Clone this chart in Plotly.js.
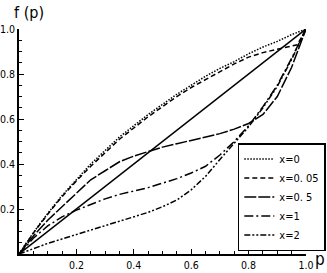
<!DOCTYPE html>
<html>
<head>
<meta charset="utf-8">
<script src="https://cdn.plot.ly/plotly-3.0.1.min.js"></script>
<style>html,body{margin:0;padding:0;background:#fff;}#chart{width:327px;height:273px;}</style>
</head>
<body>
<div id="chart"></div>
<script>
const p = [0, 0.05, 0.1, 0.15, 0.2, 0.25, 0.3, 0.35, 0.4, 0.45, 0.5, 0.55, 0.6, 0.65, 0.7, 0.75, 0.8, 0.85, 0.9, 0.95, 1.0];
const pDashed = [0, 0.05, 0.1, 0.15, 0.2, 0.25, 0.3, 0.35, 0.4, 0.45, 0.5, 0.55, 0.6, 0.65, 0.7, 0.75, 0.8, 0.85, 0.9, 0.95, 0.97, 1.0];
const fX0   = [0, 0.095, 0.18, 0.26, 0.33, 0.40, 0.46, 0.52, 0.57, 0.62, 0.665, 0.71, 0.75, 0.79, 0.825, 0.855, 0.89, 0.92, 0.945, 0.975, 1.0];
const fX005 = [0, 0.093, 0.177, 0.255, 0.325, 0.39, 0.45, 0.51, 0.56, 0.61, 0.655, 0.70, 0.74, 0.775, 0.81, 0.845, 0.875, 0.895, 0.91, 0.925, 0.93, 1.0];
const fX05  = [0, 0.08, 0.15, 0.21, 0.27, 0.33, 0.37, 0.41, 0.435, 0.455, 0.475, 0.49, 0.505, 0.52, 0.535, 0.555, 0.58, 0.62, 0.70, 0.83, 1.0];
const fX1   = [0, 0.07, 0.125, 0.165, 0.195, 0.22, 0.245, 0.265, 0.28, 0.295, 0.315, 0.335, 0.36, 0.39, 0.44, 0.50, 0.57, 0.655, 0.75, 0.87, 1.0];
const fX2   = [0, 0.025, 0.047, 0.067, 0.087, 0.107, 0.127, 0.147, 0.165, 0.185, 0.21, 0.24, 0.285, 0.345, 0.42, 0.495, 0.565, 0.65, 0.745, 0.865, 1.0];
const diagP = [0, 1];
const diagF = [0, 1];
const names = ['x=0', 'x=0. 05', 'x=0. 5', 'x=1', 'x=2'];
const tickVals = [0.2, 0.4, 0.6, 0.8, 1.0];
const tickText = ['0.2', '0.4', '0.6', '0.8', '1.0'];

const FONT = '"DejaVu Sans Condensed", "Liberation Sans Narrow", sans-serif';
const lw = 1.5;
const traces = [
  {x: diagP, y: diagF, mode: 'lines', line: {color: 'black', width: lw}, showlegend: false},
  {x: p, y: fX0, name: names[0], mode: 'lines', line: {color: 'black', width: lw, dash: '1.5px,1.5px'}},
  {x: pDashed, y: fX005, name: names[1], mode: 'lines', line: {color: 'black', width: lw, dash: '5px,3px'}},
  {x: p, y: fX05, name: names[2], mode: 'lines', line: {color: 'black', width: lw, dash: '12px,2px'}},
  {x: p, y: fX1, name: names[3], mode: 'lines', line: {color: 'black', width: lw, dash: '9px,3px,2px,3px'}},
  {x: p, y: fX2, name: names[4], mode: 'lines', line: {color: 'black', width: lw, dash: '6px,2px,2px,2px,2px,2px'}}
];

const axisCommon = {
  range: [0, 1],
  showgrid: false,
  zeroline: false,
  showline: true,
  linecolor: 'black',
  linewidth: 2,
  ticks: 'inside',
  ticklen: 5,
  tickwidth: 1,
  tickcolor: 'black',
  tickmode: 'array',
  tickvals: tickVals,
  ticktext: tickText,
  tickfont: {family: FONT, size: 10.5, color: 'black'},
  minor: {tickmode: 'linear', tick0: 0, dtick: 0.05, ticks: 'inside', ticklen: 3, tickcolor: 'black', tickwidth: 1},
  automargin: false,
  fixedrange: true
};

const layout = {
  width: 327, height: 273,
  margin: {l: 19, r: 21, t: 29, b: 19, autoexpand: false},
  paper_bgcolor: 'white', plot_bgcolor: 'white',
  xaxis: Object.assign({}, axisCommon, {ticklabelstandoff: 0}),
  yaxis: Object.assign({}, axisCommon, {ticklabelstandoff: 0}),
  showlegend: true,
  legend: {
    xref: 'paper', yref: 'paper',
    x: 1.069, y: 0.493, xanchor: 'right', yanchor: 'top',
    bordercolor: 'black', borderwidth: 1.5, bgcolor: 'white',
    font: {family: FONT, size: 11, color: 'black'},
    tracegroupgap: 0, itemwidth: 30
  },
  annotations: [
    {text: 'f (p)', xref: 'paper', yref: 'paper', x: -0.025, y: 1.075, xanchor: 'left', yanchor: 'middle', showarrow: false, font: {family: FONT, size: 16, color: 'black'}},
    {text: 'p', xref: 'paper', yref: 'paper', x: 1.025, y: -0.02, xanchor: 'left', yanchor: 'middle', showarrow: false, font: {family: FONT, size: 17, color: 'black'}}
  ]
};

Plotly.newPlot('chart', traces, layout, {staticPlot: true, displayModeBar: false});
</script>
</body>
</html>
